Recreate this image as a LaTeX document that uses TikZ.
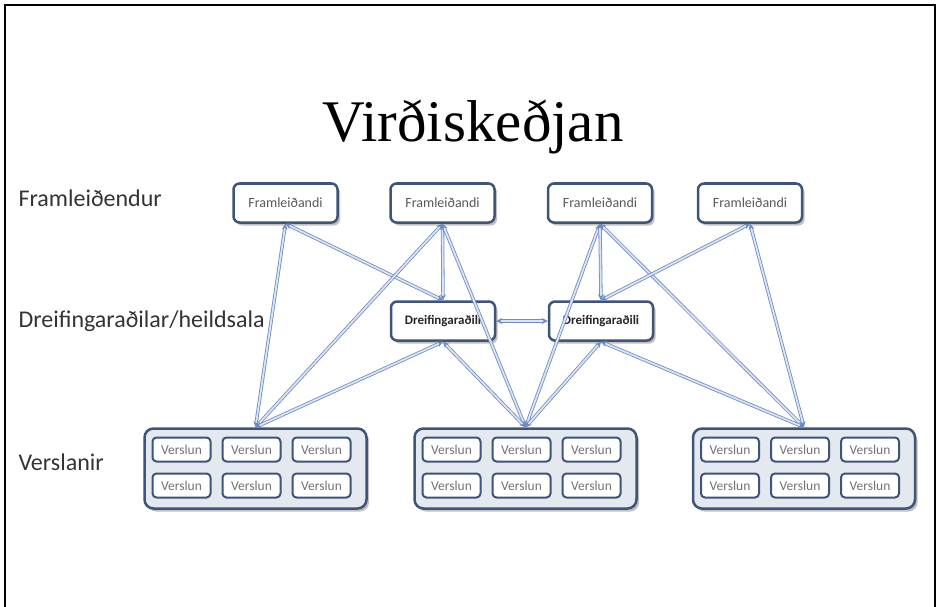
\documentclass[tikz,border=0pt]{standalone}
\usepackage{fontspec}
\setmainfont{Liberation Serif}
\newfontfamily\carl{Carlito}
\usepackage{xcolor}
\usetikzlibrary{shadows,arrows.meta}

\definecolor{boxline}{HTML}{3E5479}
\definecolor{grpfill}{HTML}{E4E8EF}
\definecolor{conn}{HTML}{6F8BC3}
\definecolor{connin}{HTML}{DCE4F3}

\begin{document}
\begin{tikzpicture}[x=1pt, y=-1pt,
    box/.style={draw=boxline, line width=2.5pt, fill=white, rounded corners=6pt,
      drop shadow={shadow xshift=2.5pt, shadow yshift=-3pt, fill=black!55, opacity=.45}},
    prod/.style={box, minimum width=104pt, minimum height=39pt,
      font=\carl\fontsize{14}{16}\selectfont, text=black!65},
    dist/.style={prod, font=\carl\bfseries\fontsize{13}{15}\selectfont, text=black!85},
    grp/.style={box, line width=2.5pt, fill=grpfill, rounded corners=9pt,
      minimum width=222pt, minimum height=80pt},
    shop/.style={draw=boxline, line width=2pt, fill=white, rounded corners=4pt,
      minimum width=58pt, minimum height=24pt, inner sep=0pt,
      font=\carl\fontsize{13.5}{15}\selectfont, text=black!55},
    link/.style={draw=conn, double=connin, double distance=1.8pt, line width=.8pt,
      {Stealth[length=6pt,width=6pt]}-{Stealth[length=6pt,width=6pt]}},
    side/.style={anchor=base west, font=\carl\fontsize{24}{28}\selectfont, text=black!80}]
    \useasboundingbox (0,0) rectangle (940,607);
    \draw[line width=1.6pt] (5,607) -- (5,5) -- (935,5) -- (935,607);

    % title and row labels
    \node[anchor=base, font=\fontsize{59}{62}\selectfont] (title) at (473,142) {Virðiskeðjan};
    \node[side] (lprod) at (15,207) {Framleiðendur};
    \node[side] (ldist) at (15,327) {Dreifingaraðilar/heildsala};
    \node[side] (lshop) at (15,470) {Verslanir};

    % producers and distributors
    \node[prod] (p1) at (285.5,203) {Framleiðandi};
    \node[prod] (p2) at (442.5,203) {Framleiðandi};
    \node[prod] (p3) at (600,203) {Framleiðandi};
    \node[prod] (p4) at (750,203) {Framleiðandi};
    \node[dist] (d1) at (443,321) {Dreifingaraðili};
    \node[dist] (d2) at (601,321) {Dreifingaraðili};

    % shop groups
    \foreach \g/\cx in {1/255.5, 2/525.5, 3/804} {
      \node[grp] (r\g) at (\cx,468.5) {};
      \foreach \c/\dx in {1/-74, 2/-4, 3/66}
        \foreach \r/\dy in {1/-19, 2/17}
          \node[shop] (r\g-\r\c) at ([shift={(\dx,\dy)}]r\g.center) {Verslun};
    }

    % links
    \draw[link] (p1.south) -- (r1.north);
    \draw[link] (p1.south) -- (d1.north);
    \draw[link] (p2.south) -- (r1.north);
    \draw[link] (p2.south) -- (d1.north);
    \draw[link] (p2.south) -- (r2.north);
    \draw[link] (d1.south) -- (r1.north);
    \draw[link] (d1.south) -- (r2.north);
    \draw[link] (d1.east) -- (d2.west);
    \draw[link] (p3.south) -- (r2.north);
    \draw[link] (p3.south) -- (d2.north);
    \draw[link] (p3.south) -- (r3.north);
    \draw[link] (p4.south) -- (d2.north);
    \draw[link] (p4.south) -- (r3.north);
    \draw[link] (d2.south) -- (r2.north);
    \draw[link] (d2.south) -- (r3.north);
\end{tikzpicture}
\end{document}
